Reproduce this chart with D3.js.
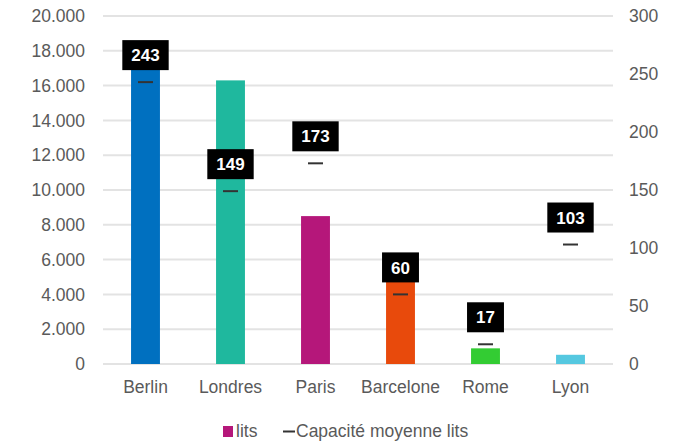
<!DOCTYPE html>
<html><head><meta charset="utf-8">
<script src="https://cdn.jsdelivr.net/npm/d3@7"></script>
<style>
body{margin:0;background:#fff;}
svg{display:block;font-family:"Liberation Sans",Arial,sans-serif;}
</style></head>
<body><div id="chart"></div>
<script>
const categories = ["Berlin","Londres","Paris","Barcelone","Rome","Lyon"];
const lits = [17000,16300,8500,4900,900,530];
const capacite = [243,149,173,60,17,103];
const barColors = ["#0070c0","#1fb89e","#b5177a","#e84a0c","#33cc33","#55c8e0"];
const leftTicks = [0,2000,4000,6000,8000,10000,12000,14000,16000,18000,20000];
const rightTicks = [0,50,100,150,200,250,300];
const legendLabels = ["lits","Capacité moyenne lits"];

const W = 684, H = 441;
const FS = "17.5px";
const svg = d3.select("#chart").append("svg").attr("width",W).attr("height",H);
const m = {left:103, right:613, top:16, bottom:364};

const x = d3.scaleBand().domain(categories).range([m.left,m.right]).padding(0);
const yL = d3.scaleLinear().domain([0,20000]).range([m.bottom,m.top]);
const yR = d3.scaleLinear().domain([0,300]).range([m.bottom,m.top]);
const fmt = v => d3.format(",")(v).replace(/,/g,".");

// gridlines
svg.append("g").selectAll("line").data(leftTicks).join("line")
  .attr("x1",m.left).attr("x2",m.right)
  .attr("y1",d=>yL(d)).attr("y2",d=>yL(d))
  .attr("stroke","#e3e3e3").attr("stroke-width",2);

// left axis
const axL = d3.axisLeft(yL).tickValues(leftTicks).tickFormat(fmt).tickSize(0).tickPadding(0);
const gL = svg.append("g").attr("transform","translate(85,0)").call(axL);
gL.select(".domain").remove();
gL.selectAll("text").attr("fill","#5a5a5a").style("font-size",FS).style("font-family","'Liberation Sans',Arial,sans-serif");

// right axis
const axR = d3.axisRight(yR).tickValues(rightTicks).tickSize(0).tickPadding(0);
const gR = svg.append("g").attr("transform","translate(629,0)").call(axR);
gR.select(".domain").remove();
gR.selectAll("text").attr("fill","#5a5a5a").style("font-size",FS).style("font-family","'Liberation Sans',Arial,sans-serif");

// bars
const bw = x.bandwidth()*0.34;
const cx = c => x(c)+x.bandwidth()/2;
svg.append("g").selectAll("rect").data(categories).join("rect")
  .attr("x",(d)=>cx(d)-bw/2).attr("width",bw)
  .attr("y",(d,i)=>yL(lits[i])).attr("height",(d,i)=>yL(0)-yL(lits[i]))
  .attr("fill",(d,i)=>barColors[i]);

// category labels
const axB = d3.axisBottom(x).tickSize(0).tickPadding(0);
const gB = svg.append("g").attr("transform","translate(0,381)").call(axB);
gB.select(".domain").remove();
gB.selectAll("text").attr("fill","#5a5a5a").style("font-size",FS).style("font-family","'Liberation Sans',Arial,sans-serif");

// markers
svg.append("g").selectAll("line").data(categories).join("line")
  .attr("x1",d=>cx(d)-7.5).attr("x2",d=>cx(d)+7.5)
  .attr("y1",(d,i)=>yR(capacite[i])).attr("y2",(d,i)=>yR(capacite[i]))
  .attr("stroke","#333").attr("stroke-width",2);

// data labels
const lbl = svg.append("g").selectAll("g").data(categories).join("g");
lbl.each(function(d,i){
  const g = d3.select(this);
  const yb = yR(capacite[i]) - 12;
  const t = g.append("text").text(capacite[i])
    .attr("x",cx(d)).attr("y",yb-15).attr("dy","0.36em")
    .attr("text-anchor","middle").attr("fill","#fff")
    .style("font-size","17px").style("font-weight","bold");
  const tw = t.node().getComputedTextLength();
  g.insert("rect","text").attr("x",cx(d)-tw/2-9).attr("width",tw+18)
    .attr("y",yb-30).attr("height",30).attr("fill","#000");
});

// legend
const lg = svg.append("g");
lg.append("rect").attr("x",223).attr("y",426).attr("width",10).attr("height",11).attr("fill","#b5177a");
lg.append("text").attr("x",236).attr("y",437).text(legendLabels[0]).attr("fill","#5a5a5a").style("font-size",FS);
lg.append("line").attr("x1",283).attr("x2",295).attr("y1",431.5).attr("y2",431.5).attr("stroke","#333").attr("stroke-width",2);
lg.append("text").attr("x",296).attr("y",437).text(legendLabels[1]).attr("fill","#5a5a5a").style("font-size",FS);
</script></body></html>
